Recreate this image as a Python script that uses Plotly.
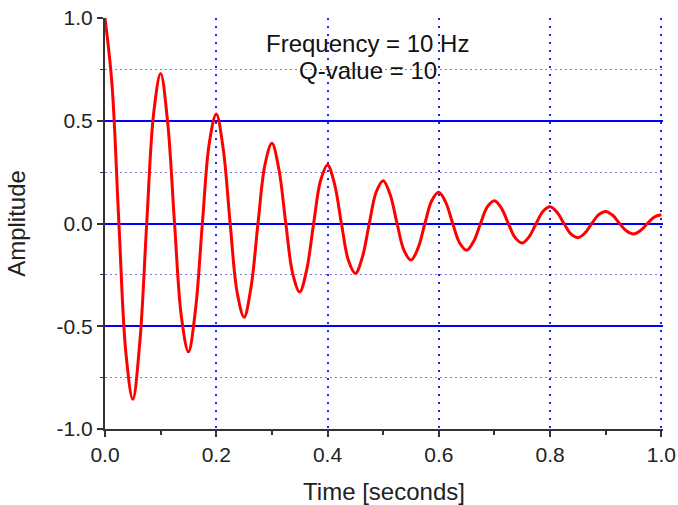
import plotly.graph_objects as go

# Time samples [s] and amplitude
time_s = [0.0, 0.0125, 0.025, 0.0375, 0.05, 0.0625, 0.075, 0.0875, 0.1, 0.1125,
          0.125, 0.1375, 0.15, 0.1625, 0.175, 0.1875, 0.2, 0.2125, 0.225, 0.2375,
          0.25, 0.2625, 0.275, 0.2875, 0.3, 0.3125, 0.325, 0.3375, 0.35, 0.3625,
          0.375, 0.3875, 0.4, 0.4125, 0.425, 0.4375, 0.45, 0.4625, 0.475, 0.4875,
          0.5, 0.5125, 0.525, 0.5375, 0.55, 0.5625, 0.575, 0.5875, 0.6, 0.6125,
          0.625, 0.6375, 0.65, 0.6625, 0.675, 0.6875, 0.7, 0.7125, 0.725, 0.7375,
          0.75, 0.7625, 0.775, 0.7875, 0.8, 0.8125, 0.825, 0.8375, 0.85, 0.8625,
          0.875, 0.8875, 0.9, 0.9125, 0.925, 0.9375, 0.95, 0.9625, 0.975, 0.9875, 1.0]
amplitude = [1.0, 0.680, 0.0, -0.628, -0.855, -0.581, 0.0, 0.537, 0.730, 0.496,
             0.0, -0.459, -0.624, -0.424, 0.0, 0.392, 0.533, 0.363, 0.0, -0.335,
             -0.456, -0.310, 0.0, 0.286, 0.390, 0.265, 0.0, -0.245, -0.333, -0.226,
             0.0, 0.209, 0.285, 0.193, 0.0, -0.179, -0.243, -0.165, 0.0, 0.153,
             0.208, 0.141, 0.0, -0.131, -0.178, -0.121, 0.0, 0.112, 0.152, 0.103,
             0.0, -0.095, -0.130, -0.088, 0.0, 0.082, 0.111, 0.075, 0.0, -0.070,
             -0.095, -0.064, 0.0, 0.060, 0.081, 0.055, 0.0, -0.051, -0.069, -0.047,
             0.0, 0.043, 0.059, 0.040, 0.0, -0.037, -0.051, -0.034, 0.0, 0.032, 0.043]

x_tickvals = [0.0, 0.2, 0.4, 0.6, 0.8, 1.0]
x_ticktext = ["0.0", "0.2", "0.4", "0.6", "0.8", "1.0"]
y_tickvals = [-1.0, -0.5, 0.0, 0.5, 1.0]
y_ticktext = ["-1.0", "-0.5", "0.0", "0.5", "1.0"]
note_lines = ["Frequency = 10 Hz", "Q-value = 10"]

FONT = "Liberation Sans, Arial, sans-serif"
AXIS_COL = "#333333"

fig = go.Figure()
fig.add_trace(go.Scatter(
    x=time_s, y=amplitude, mode="lines",
    line=dict(color="#ff0000", width=3, shape="spline", smoothing=1.0),
    showlegend=False, hoverinfo="skip",
))

fig.update_layout(
    width=678, height=505,
    margin=dict(l=105, r=15, t=18, b=76),
    paper_bgcolor="white", plot_bgcolor="white",
    font=dict(family=FONT, size=21, color="#222222"),
    xaxis=dict(
        range=[0, 1.003], tickvals=x_tickvals, ticktext=x_ticktext,
        ticks="outside", ticklen=6, tickwidth=2, tickcolor=AXIS_COL,
        showline=True, linecolor=AXIS_COL, linewidth=2,
        showgrid=True, gridcolor="#2020ff", gridwidth=2, griddash="2px,6px",
        zeroline=False, automargin=False, ticklabeloverflow="allow",
        minor=dict(dtick=0.1, ticks="outside", ticklen=4, tickwidth=2,
                   tickcolor=AXIS_COL, showgrid=False),
        tickfont=dict(size=21),
        title=dict(text="Time [seconds]", font=dict(size=24), standoff=21),
    ),
    yaxis=dict(
        range=[-1.0, 1.0], tickvals=y_tickvals, ticktext=y_ticktext,
        ticks="outside", ticklen=6, tickwidth=2, tickcolor=AXIS_COL,
        showline=True, linecolor=AXIS_COL, linewidth=2,
        showgrid=True, gridcolor="#0000ff", gridwidth=2,
        zeroline=False, automargin=False, ticklabeloverflow="allow",
        minor=dict(dtick=0.25, tick0=0, ticks="outside", ticklen=3, tickwidth=1,
                   tickcolor=AXIS_COL, showgrid=True, gridcolor="#7a7ae6",
                   gridwidth=1, griddash="1.5px,3.5px"),
        tickfont=dict(size=21),
        title=dict(text="Amplitude", font=dict(size=24), standoff=24),
    ),
)

fig.add_annotation(x=0.471, y=0.939, xref="paper", yref="paper",
                   xanchor="center", yanchor="middle",
                   text=note_lines[0], showarrow=False,
                   font=dict(size=24, color="#111111"))
fig.add_annotation(x=0.471, y=0.873, xref="paper", yref="paper",
                   xanchor="center", yanchor="middle",
                   text=note_lines[1], showarrow=False,
                   font=dict(size=24, color="#111111"))

# remove the default 8px page margin so the figure sits at the window origin
fig.write_html("out.html", config={"displayModeBar": False},
               post_script="document.body.style.margin='0px';")
